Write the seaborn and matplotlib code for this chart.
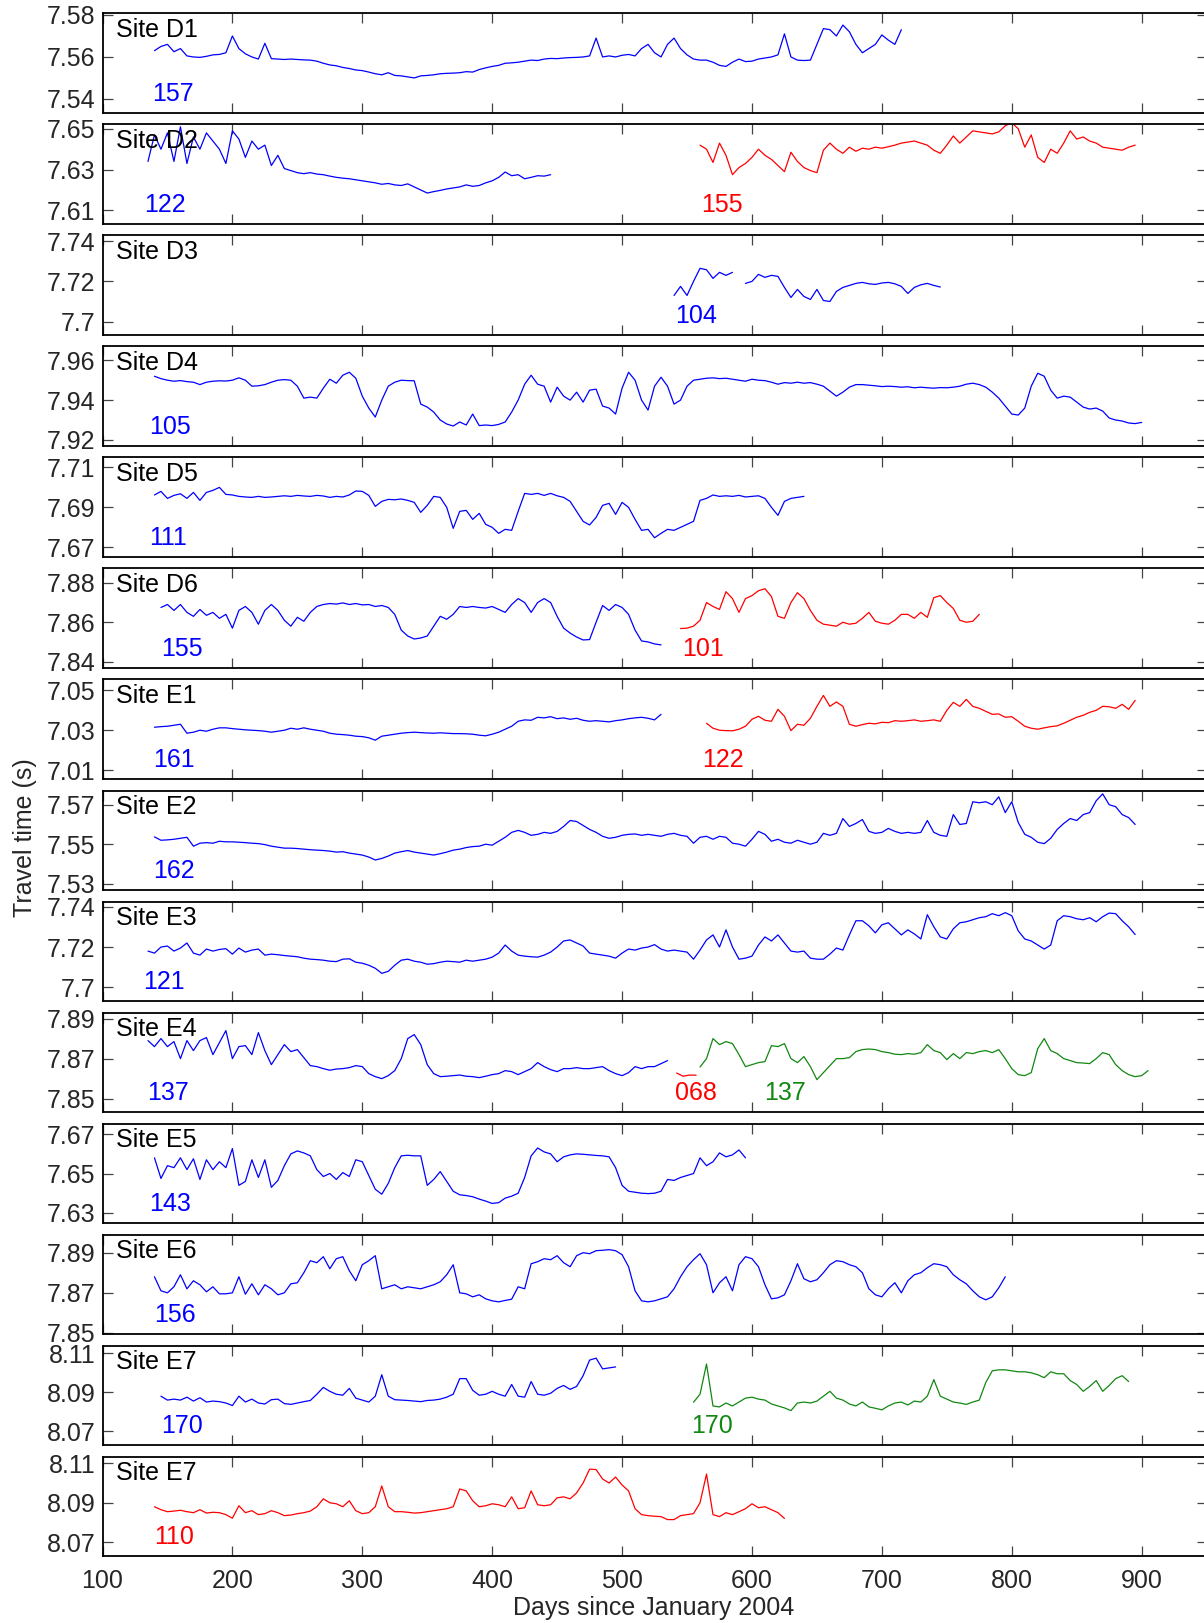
import numpy as np
import matplotlib
matplotlib.use("Agg")
import matplotlib.pyplot as plt
import seaborn as sns

# --- data: travel time (s) sampled every 5 days, start day given per series ---
STEP = 5
BLUE, RED, GREEN = "#0000ff", "#ff0000", "#118811"

d1_start = 140
d1 = [7.5630, 7.5650, 7.5660, 7.5625, 7.5640, 7.5605, 7.5600, 7.5598, 7.5603, 7.5610,
      7.5612, 7.5620, 7.5700, 7.5640, 7.5615, 7.5600, 7.5590, 7.5665, 7.5592, 7.5590,
      7.5588, 7.5590, 7.5588, 7.5586, 7.5585, 7.5580, 7.5570, 7.5562, 7.5558, 7.5550,
      7.5545, 7.5538, 7.5535, 7.5528, 7.5520, 7.5515, 7.5525, 7.5512, 7.5510, 7.5505,
      7.5500, 7.5510, 7.5512, 7.5515, 7.5520, 7.5522, 7.5523, 7.5525, 7.5530, 7.5528,
      7.5540, 7.5548, 7.5555, 7.5560, 7.5570, 7.5572, 7.5575, 7.5580, 7.5585, 7.5583,
      7.5590, 7.5593, 7.5592, 7.5595, 7.5597, 7.5598, 7.5600, 7.5605, 7.5690, 7.5600,
      7.5605, 7.5600, 7.5608, 7.5612, 7.5605, 7.5640, 7.5660, 7.5620, 7.5600, 7.5660,
      7.5690, 7.5640, 7.5610, 7.5590, 7.5585, 7.5585, 7.5575, 7.5560, 7.5555, 7.5575,
      7.5590, 7.5578, 7.5580, 7.5590, 7.5595, 7.5600, 7.5610, 7.5710, 7.5600, 7.5585,
      7.5583, 7.5585, 7.5660, 7.5735, 7.5730, 7.5700, 7.5752, 7.5720, 7.5660, 7.5620,
      7.5640, 7.5660, 7.5705, 7.5680, 7.5660, 7.5730]

d2a_start = 135
d2a = [7.6340, 7.6470, 7.6400, 7.6480, 7.6340, 7.6510, 7.6330, 7.6460, 7.6400, 7.6480,
       7.6440, 7.6400, 7.6330, 7.6490, 7.6450, 7.6360, 7.6440, 7.6400, 7.6420, 7.6320,
       7.6370, 7.6305, 7.6295, 7.6285, 7.6280, 7.6285, 7.6278, 7.6275, 7.6268, 7.6262,
       7.6258, 7.6255, 7.6250, 7.6245, 7.6240, 7.6235, 7.6228, 7.6232, 7.6225, 7.6222,
       7.6230, 7.6215, 7.6200, 7.6185, 7.6192, 7.6198, 7.6205, 7.6210, 7.6215, 7.6225,
       7.6218, 7.6222, 7.6235, 7.6245, 7.6262, 7.6288, 7.6270, 7.6275, 7.6255, 7.6262,
       7.6270, 7.6268, 7.6275]

d2b_start = 560
d2b = [7.6420, 7.6400, 7.6335, 7.6430, 7.6370, 7.6275, 7.6310, 7.6330, 7.6360, 7.6400,
       7.6370, 7.6350, 7.6320, 7.6290, 7.6385, 7.6340, 7.6310, 7.6295, 7.6285, 7.6395,
       7.6430, 7.6400, 7.6380, 7.6410, 7.6390, 7.6405, 7.6400, 7.6410, 7.6405, 7.6412,
       7.6420, 7.6430, 7.6435, 7.6440, 7.6430, 7.6420, 7.6395, 7.6380, 7.6420, 7.6465,
       7.6430, 7.6460, 7.6490, 7.6485, 7.6480, 7.6475, 7.6485, 7.6515, 7.6530, 7.6500,
       7.6410, 7.6470, 7.6360, 7.6335, 7.6400, 7.6380, 7.6430, 7.6490, 7.6450, 7.6460,
       7.6440, 7.6430, 7.6410, 7.6405, 7.6400, 7.6395, 7.6410, 7.6420]

d3a_start = 540
d3a = [7.7130, 7.7175, 7.7130, 7.7200, 7.7265, 7.7258, 7.7215, 7.7245, 7.7230, 7.7245]

d3b_start = 595
d3b = [7.7190, 7.7200, 7.7235, 7.7220, 7.7230, 7.7225, 7.7170, 7.7120, 7.7160, 7.7125,
       7.7110, 7.7160, 7.7105, 7.7100, 7.7150, 7.7170, 7.7180, 7.7190, 7.7195, 7.7188,
       7.7185, 7.7192, 7.7195, 7.7188, 7.7175, 7.7140, 7.7170, 7.7183, 7.7190, 7.7180,
       7.7172]

d4_start = 140
d4 = [7.9520, 7.9508, 7.9500, 7.9495, 7.9498, 7.9493, 7.9490, 7.9478, 7.9490, 7.9495,
      7.9497, 7.9496, 7.9500, 7.9512, 7.9500, 7.9470, 7.9472, 7.9478, 7.9490, 7.9500,
      7.9503, 7.9500, 7.9470, 7.9410, 7.9415, 7.9410, 7.9460, 7.9505, 7.9485, 7.9525,
      7.9540, 7.9510, 7.9420, 7.9360, 7.9315, 7.9400, 7.9470, 7.9490, 7.9500, 7.9498,
      7.9497, 7.9380, 7.9365, 7.9340, 7.9300, 7.9280, 7.9270, 7.9290, 7.9275, 7.9330,
      7.9272, 7.9275, 7.9272, 7.9278, 7.9290, 7.9340, 7.9400, 7.9480, 7.9525, 7.9480,
      7.9470, 7.9390, 7.9465, 7.9420, 7.9400, 7.9440, 7.9390, 7.9450, 7.9455, 7.9370,
      7.9360, 7.9330, 7.9460, 7.9540, 7.9500, 7.9400, 7.9350, 7.9470, 7.9515, 7.9470,
      7.9380, 7.9400, 7.9470, 7.9500, 7.9505, 7.9510, 7.9512, 7.9508, 7.9510, 7.9505,
      7.9500, 7.9495, 7.9505, 7.9500, 7.9498, 7.9490, 7.9480, 7.9488, 7.9485, 7.9490,
      7.9485, 7.9488, 7.9480, 7.9470, 7.9445, 7.9420, 7.9440, 7.9465, 7.9478, 7.9478,
      7.9475, 7.9472, 7.9468, 7.9470, 7.9468, 7.9465, 7.9467, 7.9462, 7.9465, 7.9462,
      7.9460, 7.9463, 7.9462, 7.9465, 7.9470, 7.9480, 7.9485, 7.9478, 7.9465, 7.9440,
      7.9410, 7.9370, 7.9330, 7.9325, 7.9360, 7.9470, 7.9535, 7.9520, 7.9450, 7.9410,
      7.9420, 7.9415, 7.9390, 7.9365, 7.9355, 7.9360, 7.9345, 7.9310, 7.9300, 7.9295,
      7.9285, 7.9282, 7.9288]

d5_start = 140
d5 = [7.6962, 7.6980, 7.6945, 7.6960, 7.6968, 7.6945, 7.6975, 7.6935, 7.6975, 7.6985,
      7.7000, 7.6965, 7.6962, 7.6955, 7.6952, 7.6950, 7.6955, 7.6950, 7.6952, 7.6955,
      7.6958, 7.6955, 7.6960, 7.6957, 7.6955, 7.6960, 7.6957, 7.6950, 7.6955, 7.6952,
      7.6962, 7.6982, 7.6980, 7.6960, 7.6905, 7.6930, 7.6940, 7.6938, 7.6942, 7.6935,
      7.6925, 7.6875, 7.6910, 7.6955, 7.6950, 7.6900, 7.6795, 7.6880, 7.6885, 7.6840,
      7.6870, 7.6815, 7.6800, 7.6770, 7.6790, 7.6785, 7.6880, 7.6970, 7.6965, 7.6970,
      7.6960, 7.6970, 7.6958, 7.6950, 7.6930, 7.6880, 7.6830, 7.6812, 7.6850, 7.6910,
      7.6920, 7.6865, 7.6925, 7.6900, 7.6840, 7.6785, 7.6790, 7.6748, 7.6770, 7.6790,
      7.6785, 7.6800, 7.6815, 7.6830, 7.6935, 7.6945, 7.6962, 7.6955, 7.6958, 7.6955,
      7.6960, 7.6952, 7.6955, 7.6958, 7.6945, 7.6900, 7.6860, 7.6930, 7.6945, 7.6950,
      7.6955]

d6a_start = 145
d6a = [7.8675, 7.8690, 7.8660, 7.8690, 7.8650, 7.8630, 7.8665, 7.8635, 7.8650, 7.8620,
       7.8640, 7.8570, 7.8660, 7.8680, 7.8650, 7.8590, 7.8660, 7.8690, 7.8660, 7.8610,
       7.8580, 7.8625, 7.8605, 7.8650, 7.8680, 7.8690, 7.8695, 7.8692, 7.8698, 7.8690,
       7.8695, 7.8688, 7.8690, 7.8680, 7.8685, 7.8675, 7.8640, 7.8560, 7.8530, 7.8515,
       7.8520, 7.8530, 7.8580, 7.8630, 7.8615, 7.8640, 7.8680, 7.8675, 7.8680, 7.8675,
       7.8672, 7.8680, 7.8665, 7.8650, 7.8690, 7.8720, 7.8700, 7.8650, 7.8700, 7.8720,
       7.8700, 7.8630, 7.8570, 7.8545, 7.8525, 7.8510, 7.8512, 7.8600, 7.8685, 7.8660,
       7.8690, 7.8675, 7.8640, 7.8560, 7.8505, 7.8500, 7.8490, 7.8485]

d6b_start = 545
d6b = [7.8568, 7.8570, 7.8580, 7.8610, 7.8700, 7.8680, 7.8665, 7.8755, 7.8720, 7.8650,
       7.8720, 7.8735, 7.8760, 7.8770, 7.8730, 7.8630, 7.8620, 7.8700, 7.8750, 7.8720,
       7.8660, 7.8610, 7.8590, 7.8585, 7.8580, 7.8600, 7.8590, 7.8595, 7.8620, 7.8650,
       7.8605, 7.8595, 7.8590, 7.8610, 7.8640, 7.8640, 7.8620, 7.8650, 7.8625, 7.8725,
       7.8735, 7.8700, 7.8670, 7.8610, 7.8600, 7.8605, 7.8640]

e1a_start = 140
e1a = [7.0315, 7.0318, 7.0320, 7.0325, 7.0330, 7.0285, 7.0290, 7.0300, 7.0295, 7.0305,
       7.0312, 7.0312, 7.0308, 7.0305, 7.0302, 7.0300, 7.0298, 7.0295, 7.0290, 7.0295,
       7.0300, 7.0310, 7.0305, 7.0312, 7.0305, 7.0300, 7.0295, 7.0285, 7.0280, 7.0278,
       7.0275, 7.0270, 7.0268, 7.0262, 7.0250, 7.0270, 7.0275, 7.0280, 7.0285, 7.0288,
       7.0290, 7.0288, 7.0286, 7.0285, 7.0287, 7.0285, 7.0283, 7.0283, 7.0282, 7.0280,
       7.0275, 7.0272, 7.0280, 7.0290, 7.0305, 7.0320, 7.0345, 7.0352, 7.0350, 7.0365,
       7.0362, 7.0368, 7.0358, 7.0362, 7.0355, 7.0360, 7.0350, 7.0345, 7.0348, 7.0345,
       7.0342, 7.0348, 7.0352, 7.0358, 7.0362, 7.0365, 7.0360, 7.0352, 7.0380]

e1b_start = 565
e1b = [7.0335, 7.0310, 7.0300, 7.0298, 7.0297, 7.0305, 7.0320, 7.0355, 7.0370, 7.0350,
       7.0345, 7.0405, 7.0370, 7.0298, 7.0330, 7.0325, 7.0360, 7.0420, 7.0475, 7.0420,
       7.0442, 7.0420, 7.0330, 7.0320, 7.0328, 7.0335, 7.0332, 7.0340, 7.0338, 7.0348,
       7.0345, 7.0348, 7.0352, 7.0345, 7.0348, 7.0352, 7.0345, 7.0400, 7.0440, 7.0420,
       7.0455, 7.0420, 7.0410, 7.0395, 7.0380, 7.0382, 7.0365, 7.0368, 7.0345, 7.0320,
       7.0310, 7.0305, 7.0312, 7.0318, 7.0322, 7.0335, 7.0350, 7.0365, 7.0375, 7.0390,
       7.0400, 7.0420, 7.0418, 7.0410, 7.0430, 7.0405, 7.0450]

e2_start = 140
e2 = [7.5537, 7.5520, 7.5522, 7.5525, 7.5530, 7.5535, 7.5490, 7.5505, 7.5508, 7.5505,
      7.5515, 7.5512, 7.5512, 7.5510, 7.5508, 7.5505, 7.5503, 7.5498, 7.5490, 7.5485,
      7.5480, 7.5480, 7.5478, 7.5475, 7.5472, 7.5470, 7.5468, 7.5465, 7.5460, 7.5462,
      7.5455, 7.5450, 7.5445, 7.5435, 7.5420, 7.5428, 7.5440, 7.5455, 7.5462, 7.5468,
      7.5460, 7.5455, 7.5450, 7.5445, 7.5452, 7.5460, 7.5470, 7.5475, 7.5483, 7.5488,
      7.5490, 7.5500, 7.5495, 7.5515, 7.5535, 7.5560, 7.5570, 7.5560, 7.5545, 7.5550,
      7.5560, 7.5555, 7.5565, 7.5590, 7.5620, 7.5615, 7.5595, 7.5575, 7.5560, 7.5540,
      7.5530, 7.5535, 7.5545, 7.5550, 7.5552, 7.5545, 7.5550, 7.5545, 7.5540, 7.5550,
      7.5555, 7.5545, 7.5540, 7.5505, 7.5535, 7.5540, 7.5525, 7.5540, 7.5535, 7.5505,
      7.5500, 7.5490, 7.5525, 7.5565, 7.5550, 7.5515, 7.5525, 7.5510, 7.5505, 7.5520,
      7.5510, 7.5500, 7.5510, 7.5555, 7.5545, 7.5555, 7.5630, 7.5590, 7.5605, 7.5625,
      7.5565, 7.5555, 7.5560, 7.5580, 7.5565, 7.5555, 7.5560, 7.5555, 7.5560, 7.5620,
      7.5560, 7.5545, 7.5540, 7.5650, 7.5600, 7.5605, 7.5715, 7.5710, 7.5715, 7.5700,
      7.5740, 7.5660, 7.5715, 7.5610, 7.5550, 7.5535, 7.5510, 7.5503, 7.5530, 7.5575,
      7.5605, 7.5630, 7.5620, 7.5650, 7.5660, 7.5720, 7.5755, 7.5700, 7.5690, 7.5650,
      7.5635, 7.5600]

e3_start = 135
e3 = [7.7180, 7.7170, 7.7200, 7.7205, 7.7180, 7.7195, 7.7220, 7.7170, 7.7160, 7.7190,
      7.7180, 7.7188, 7.7192, 7.7165, 7.7195, 7.7175, 7.7185, 7.7190, 7.7160, 7.7165,
      7.7162, 7.7158, 7.7155, 7.7152, 7.7145, 7.7140, 7.7138, 7.7135, 7.7130, 7.7128,
      7.7140, 7.7142, 7.7125, 7.7120, 7.7110, 7.7095, 7.7070, 7.7080, 7.7110, 7.7135,
      7.7140, 7.7130, 7.7125, 7.7115, 7.7118, 7.7125, 7.7130, 7.7128, 7.7125, 7.7135,
      7.7130, 7.7135, 7.7140, 7.7150, 7.7170, 7.7210, 7.7180, 7.7160, 7.7155, 7.7152,
      7.7150, 7.7160, 7.7175, 7.7200, 7.7230, 7.7235, 7.7220, 7.7205, 7.7170, 7.7165,
      7.7160, 7.7155, 7.7145, 7.7170, 7.7190, 7.7185, 7.7195, 7.7200, 7.7212, 7.7190,
      7.7180, 7.7185, 7.7180, 7.7175, 7.7140, 7.7185, 7.7235, 7.7260, 7.7200, 7.7285,
      7.7200, 7.7140, 7.7145, 7.7155, 7.7210, 7.7250, 7.7230, 7.7260, 7.7220, 7.7180,
      7.7175, 7.7180, 7.7145, 7.7140, 7.7140, 7.7165, 7.7195, 7.7185, 7.7260, 7.7330,
      7.7330, 7.7305, 7.7270, 7.7310, 7.7320, 7.7290, 7.7260, 7.7285, 7.7265, 7.7240,
      7.7360, 7.7300, 7.7250, 7.7240, 7.7290, 7.7320, 7.7325, 7.7335, 7.7345, 7.7350,
      7.7365, 7.7355, 7.7370, 7.7355, 7.7280, 7.7240, 7.7230, 7.7210, 7.7190, 7.7210,
      7.7330, 7.7355, 7.7350, 7.7340, 7.7335, 7.7345, 7.7325, 7.7350, 7.7368, 7.7365,
      7.7330, 7.7300, 7.7262]

e4a_start = 135
e4a = [7.8790, 7.8760, 7.8800, 7.8760, 7.8785, 7.8700, 7.8790, 7.8740, 7.8790, 7.8805,
       7.8720, 7.8780, 7.8840, 7.8700, 7.8760, 7.8765, 7.8720, 7.8830, 7.8740, 7.8670,
       7.8720, 7.8770, 7.8735, 7.8745, 7.8705, 7.8665, 7.8660, 7.8650, 7.8642, 7.8648,
       7.8650, 7.8655, 7.8665, 7.8660, 7.8625, 7.8610, 7.8600, 7.8615, 7.8640, 7.8700,
       7.8800, 7.8820, 7.8770, 7.8670, 7.8625, 7.8610, 7.8612, 7.8615, 7.8618, 7.8612,
       7.8610, 7.8605, 7.8612, 7.8620, 7.8625, 7.8640, 7.8635, 7.8620, 7.8635, 7.8650,
       7.8680, 7.8660, 7.8645, 7.8635, 7.8650, 7.8650, 7.8655, 7.8650, 7.8650, 7.8655,
       7.8660, 7.8640, 7.8625, 7.8615, 7.8630, 7.8660, 7.8650, 7.8660, 7.8660, 7.8675,
       7.8690]

e4b_start = 542
e4b = [7.8628, 7.8612, 7.8618, 7.8617]

e4c_start = 560
e4c = [7.8658, 7.8700, 7.8800, 7.8770, 7.8785, 7.8775, 7.8720, 7.8660, 7.8670, 7.8680,
       7.8685, 7.8765, 7.8760, 7.8775, 7.8700, 7.8680, 7.8710, 7.8660, 7.8595, 7.8630,
       7.8665, 7.8700, 7.8700, 7.8705, 7.8735, 7.8745, 7.8748, 7.8745, 7.8735, 7.8730,
       7.8722, 7.8720, 7.8725, 7.8722, 7.8730, 7.8770, 7.8740, 7.8730, 7.8695, 7.8725,
       7.8700, 7.8730, 7.8725, 7.8735, 7.8740, 7.8730, 7.8745, 7.8700, 7.8650, 7.8620,
       7.8615, 7.8630, 7.8750, 7.8800, 7.8740, 7.8725, 7.8700, 7.8690, 7.8680, 7.8678,
       7.8675, 7.8700, 7.8730, 7.8720, 7.8670, 7.8640, 7.8620, 7.8610, 7.8615, 7.8640]

e5_start = 140
e5 = [7.6580, 7.6475, 7.6540, 7.6530, 7.6580, 7.6520, 7.6575, 7.6470, 7.6570, 7.6520,
      7.6560, 7.6530, 7.6627, 7.6440, 7.6460, 7.6570, 7.6480, 7.6570, 7.6430, 7.6465,
      7.6540, 7.6600, 7.6615, 7.6605, 7.6590, 7.6520, 7.6485, 7.6500, 7.6470, 7.6505,
      7.6485, 7.6570, 7.6560, 7.6490, 7.6420, 7.6395, 7.6450, 7.6530, 7.6590, 7.6593,
      7.6590, 7.6590, 7.6440, 7.6470, 7.6510, 7.6460, 7.6410, 7.6392, 7.6388, 7.6382,
      7.6370, 7.6360, 7.6348, 7.6352, 7.6375, 7.6385, 7.6400, 7.6480, 7.6590, 7.6630,
      7.6610, 7.6600, 7.6560, 7.6585, 7.6595, 7.6600, 7.6598, 7.6595, 7.6592, 7.6590,
      7.6585, 7.6530, 7.6440, 7.6410, 7.6405, 7.6400, 7.6398, 7.6400, 7.6410, 7.6470,
      7.6465, 7.6480, 7.6490, 7.6500, 7.6580, 7.6540, 7.6560, 7.6605, 7.6585, 7.6595,
      7.6620, 7.6580]

e6_start = 140
e6 = [7.8780, 7.8710, 7.8700, 7.8730, 7.8790, 7.8720, 7.8760, 7.8740, 7.8705, 7.8730,
      7.8695, 7.8695, 7.8700, 7.8780, 7.8693, 7.8745, 7.8690, 7.8740, 7.8720, 7.8690,
      7.8700, 7.8745, 7.8750, 7.8800, 7.8860, 7.8850, 7.8880, 7.8820, 7.8870, 7.8880,
      7.8810, 7.8760, 7.8840, 7.8860, 7.8885, 7.8720, 7.8730, 7.8740, 7.8720, 7.8730,
      7.8725, 7.8720, 7.8730, 7.8740, 7.8755, 7.8790, 7.8840, 7.8700, 7.8695, 7.8680,
      7.8690, 7.8670, 7.8660, 7.8655, 7.8662, 7.8668, 7.8730, 7.8720, 7.8845, 7.8855,
      7.8870, 7.8865, 7.8885, 7.8850, 7.8830, 7.8885, 7.8900, 7.8895, 7.8910, 7.8912,
      7.8915, 7.8910, 7.8890, 7.8830, 7.8710, 7.8660, 7.8655, 7.8660, 7.8670, 7.8680,
      7.8720, 7.8780, 7.8830, 7.8865, 7.8895, 7.8840, 7.8700, 7.8750, 7.8780, 7.8710,
      7.8840, 7.8880, 7.8870, 7.8830, 7.8740, 7.8670, 7.8675, 7.8690, 7.8760, 7.8845,
      7.8770, 7.8755, 7.8765, 7.8800, 7.8840, 7.8860, 7.8855, 7.8840, 7.8830, 7.8800,
      7.8720, 7.8690, 7.8680, 7.8720, 7.8750, 7.8700, 7.8760, 7.8790, 7.8800, 7.8825,
      7.8845, 7.8840, 7.8830, 7.8790, 7.8765, 7.8745, 7.8710, 7.8680, 7.8665, 7.8680,
      7.8725, 7.8780]

e7a_start = 145
e7a = [8.0880, 8.0860, 8.0865, 8.0860, 8.0875, 8.0855, 8.0872, 8.0850, 8.0855, 8.0852,
       8.0845, 8.0832, 8.0880, 8.0850, 8.0865, 8.0845, 8.0840, 8.0862, 8.0865, 8.0842,
       8.0838, 8.0845, 8.0852, 8.0858, 8.0890, 8.0925, 8.0905, 8.0890, 8.0885, 8.0920,
       8.0870, 8.0860, 8.0850, 8.0880, 8.0990, 8.0880, 8.0862, 8.0860, 8.0858, 8.0855,
       8.0852, 8.0858, 8.0860, 8.0865, 8.0875, 8.0890, 8.0970, 8.0970, 8.0910, 8.0885,
       8.0890, 8.0905, 8.0890, 8.0880, 8.0940, 8.0880, 8.0875, 8.0955, 8.0890, 8.0885,
       8.0895, 8.0920, 8.0935, 8.0915, 8.0930, 8.0985, 8.1065, 8.1075, 8.1020, 8.1025,
       8.1030]

e7b_start = 555
e7b = [8.0849, 8.0890, 8.1045, 8.0830, 8.0825, 8.0845, 8.0830, 8.0850, 8.0870, 8.0875,
       8.0865, 8.0860, 8.0840, 8.0830, 8.0820, 8.0806, 8.0845, 8.0850, 8.0845, 8.0855,
       8.0880, 8.0905, 8.0870, 8.0860, 8.0840, 8.0830, 8.0850, 8.0825, 8.0818, 8.0810,
       8.0830, 8.0845, 8.0850, 8.0835, 8.0855, 8.0850, 8.0880, 8.0965, 8.0880, 8.0865,
       8.0850, 8.0845, 8.0838, 8.0850, 8.0860, 8.0950, 8.1010, 8.1015, 8.1015, 8.1010,
       8.1005, 8.1005, 8.1000, 8.0990, 8.0975, 8.1005, 8.0995, 8.0995, 8.0960, 8.0940,
       8.0905, 8.0930, 8.0960, 8.0905, 8.0935, 8.0970, 8.0985, 8.0955]

e7c_start = 140
e7c = [8.0880, 8.0865, 8.0855, 8.0858, 8.0862, 8.0855, 8.0850, 8.0865, 8.0848, 8.0852,
       8.0850, 8.0840, 8.0822, 8.0885, 8.0850, 8.0860, 8.0840, 8.0845, 8.0860, 8.0850,
       8.0835, 8.0838, 8.0845, 8.0850, 8.0858, 8.0880, 8.0920, 8.0900, 8.0895, 8.0880,
       8.0910, 8.0860, 8.0845, 8.0850, 8.0880, 8.0985, 8.0880, 8.0855, 8.0855, 8.0852,
       8.0848, 8.0850, 8.0855, 8.0860, 8.0865, 8.0870, 8.0880, 8.0970, 8.0960, 8.0910,
       8.0880, 8.0885, 8.0895, 8.0890, 8.0880, 8.0930, 8.0870, 8.0875, 8.0960, 8.0890,
       8.0885, 8.0890, 8.0925, 8.0930, 8.0920, 8.0950, 8.1000, 8.1070, 8.1068, 8.1020,
       8.1000, 8.1030, 8.0990, 8.0960, 8.0870, 8.0840, 8.0835, 8.0832, 8.0830, 8.0815,
       8.0815, 8.0835, 8.0840, 8.0845, 8.0900, 8.1045, 8.0840, 8.0830, 8.0850, 8.0840,
       8.0855, 8.0870, 8.0895, 8.0875, 8.0880, 8.0865, 8.0850, 8.0821]

site_names = ["Site D1", "Site D2", "Site D3", "Site D4", "Site D5", "Site D6", "Site E1",
              "Site E2", "Site E3", "Site E4", "Site E5", "Site E6", "Site E7", "Site E7"]
ytick_sets = [(7.54, 7.56, 7.58), (7.61, 7.63, 7.65), (7.70, 7.72, 7.74), (7.92, 7.94, 7.96),
              (7.67, 7.69, 7.71), (7.84, 7.86, 7.88), (7.01, 7.03, 7.05), (7.53, 7.55, 7.57),
              (7.70, 7.72, 7.74), (7.85, 7.87, 7.89), (7.63, 7.65, 7.67), (7.85, 7.87, 7.89),
              (8.07, 8.09, 8.11), (8.07, 8.09, 8.11)]
ylims = [(7.5334, 7.5808), (7.6034, 7.6522), (7.6934, 7.7429), (7.9170, 7.9670),
         (7.6652, 7.7150), (7.8368, 7.8873), (7.0055, 7.0555), (7.5268, 7.5772),
         (7.6933, 7.7425), (7.8433, 7.8930), (7.6248, 7.6754), (7.8494, 7.8990),
         (8.0629, 8.1139), (8.0630, 8.1133)]

# series per panel: (start day, values, colour)
series = [
    [(d1_start, d1, BLUE)],
    [(d2a_start, d2a, BLUE), (d2b_start, d2b, RED)],
    [(d3a_start, d3a, BLUE), (d3b_start, d3b, BLUE)],
    [(d4_start, d4, BLUE)],
    [(d5_start, d5, BLUE)],
    [(d6a_start, d6a, BLUE), (d6b_start, d6b, RED)],
    [(e1a_start, e1a, BLUE), (e1b_start, e1b, RED)],
    [(e2_start, e2, BLUE)],
    [(e3_start, e3, BLUE)],
    [(e4a_start, e4a, BLUE), (e4b_start, e4b, RED), (e4c_start, e4c, GREEN)],
    [(e5_start, e5, BLUE)],
    [(e6_start, e6, BLUE)],
    [(e7a_start, e7a, BLUE), (e7b_start, e7b, GREEN)],
    [(e7c_start, e7c, RED)],
]

# record-length labels per panel: (day, text, colour)
counts = [
    [(138, "157", BLUE)],
    [(132, "122", BLUE), (561, "155", RED)],
    [(541, "104", BLUE)],
    [(136, "105", BLUE)],
    [(136, "111", BLUE)],
    [(145, "155", BLUE), (546, "101", RED)],
    [(139, "161", BLUE), (562, "122", RED)],
    [(139, "162", BLUE)],
    [(131, "121", BLUE)],
    [(134, "137", BLUE), (541, "068", RED), (609, "137", GREEN)],
    [(136, "143", BLUE)],
    [(140, "156", BLUE)],
    [(145, "170", BLUE), (553, "170", GREEN)],
    [(140, "110", RED)],
]

xticks = [100, 200, 300, 400, 500, 600, 700, 800, 900]

# --- figure ---
sns.set_style("ticks")
plt.rcParams["font.family"] = ["Liberation Sans", "DejaVu Sans"]
FS = 18

W, H = 1204, 1623
fig = plt.figure(figsize=(W / 100, H / 100), dpi=100)

left_px, right_px = 102.5, 1206.6
top0, pitch, height = 13.3, 111.03, 99.5

for i in range(len(site_names)):
    top = top0 + i * pitch
    ax = fig.add_axes([left_px / W, 1 - (top + height) / H, (right_px - left_px) / W, height / H])

    for start, vals, col in series[i]:
        days = np.arange(len(vals)) * STEP + start
        sns.lineplot(x=days, y=vals, ax=ax, color=col, linewidth=0.9, estimator=None)

    lo, hi = ylims[i]
    ax.set_xlim(100, 950)
    ax.set_ylim(lo, hi)
    ax.set_xticks(xticks)
    ax.set_yticks(ytick_sets[i])
    ax.set_yticklabels([f"{t:g}" for t in ytick_sets[i]])
    ax.set_xlabel("")
    ax.set_ylabel("")

    for sp in ax.spines.values():
        sp.set_visible(True)
        sp.set_color("black")
        sp.set_linewidth(1.3)

    ax.tick_params(axis="both", direction="in", length=7.5, width=0.9, color="#444444",
                   top=True, right=True, labelsize=FS, pad=5)
    last = i == len(site_names) - 1
    ax.tick_params(axis="x", labelbottom=last, pad=9)

    ax.annotate(site_names[i], xy=(110.5, 0.955), xycoords=("data", "axes fraction"),
                ha="left", va="top", fontsize=FS, color="black")
    for xd, txt, col in counts[i]:
        ax.annotate(txt, xy=(xd, 0.19), xycoords=("data", "axes fraction"),
                    ha="left", va="center", fontsize=FS, color=col)

fig.text(25 / W, 1 - 838 / H, "Travel time (s)", rotation=90, ha="center", va="center",
         fontsize=FS)
fig.text(654 / W, 1 - 1608 / H, "Days since January 2004", ha="center", va="center",
         fontsize=FS)

fig.savefig("out.png", dpi=100)
